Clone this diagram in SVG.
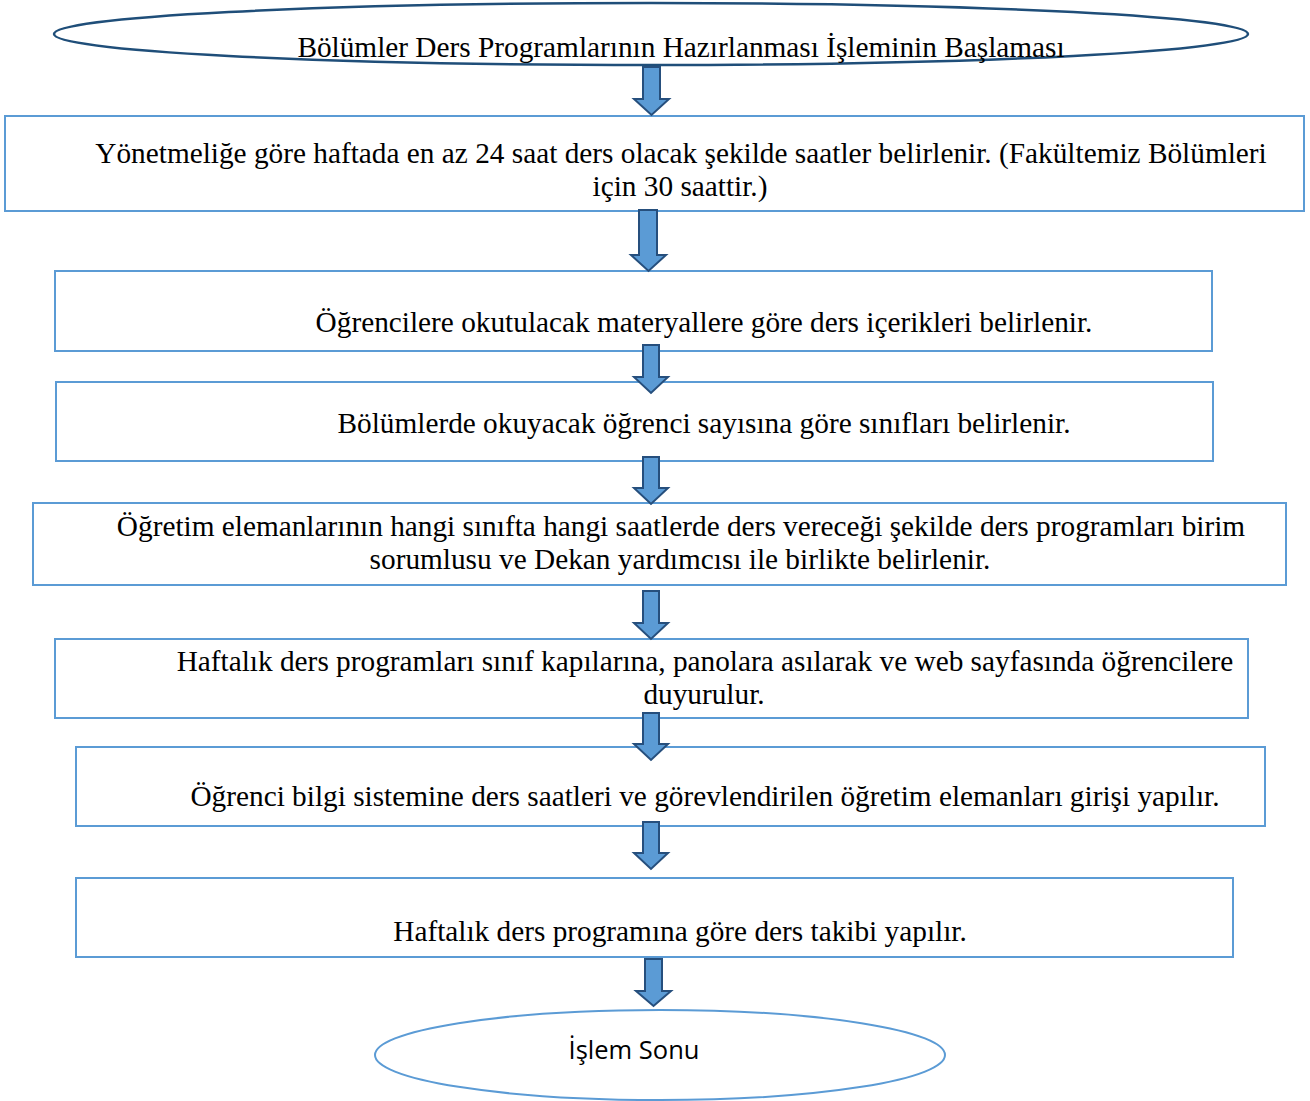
<svg xmlns="http://www.w3.org/2000/svg" width="1310" height="1101" viewBox="0 0 1310 1101">
  <style>
    .box { fill: #ffffff; stroke: #5B9BD5; stroke-width: 2; }
    .start { fill: #ffffff; stroke: #1F4E79; stroke-width: 2.5; }
    .end { fill: #ffffff; stroke: #5B9BD5; stroke-width: 2; }
    .arrow { fill: #5B9BD5; stroke: #264F7D; stroke-width: 2; stroke-linejoin: miter; }
    .t { font-family: "Liberation Serif", "Times New Roman", serif; font-size: 29.3px; fill: #000; text-anchor: middle; }
    .s { font-family: "Open Sans", "Liberation Sans", sans-serif; font-size: 25.5px; fill: #000; text-anchor: middle; }
  </style>

  <g id="n-start">
    <ellipse class="start" cx="651" cy="34" rx="597" ry="31"/>
    <text class="t" x="681" y="57">Bölümler Ders Programlarının Hazırlanması İşleminin Başlaması</text>
  </g>

  <g id="n1">
    <rect class="box" x="5" y="116" width="1299" height="95"/>
    <text class="t" x="681" y="163">Yönetmeliğe göre haftada en az 24 saat ders olacak şekilde saatler belirlenir. (Fakültemiz Bölümleri</text>
    <text class="t" x="680" y="196">için 30 saattir.)</text>
  </g>

  <g id="n2">
    <rect class="box" x="55" y="271" width="1157" height="80"/>
    <text class="t" x="704" y="332">Öğrencilere okutulacak materyallere göre ders içerikleri belirlenir.</text>
  </g>

  <g id="n3">
    <rect class="box" x="56" y="382" width="1157" height="79"/>
    <text class="t" x="704" y="433">Bölümlerde okuyacak öğrenci sayısına göre sınıfları belirlenir.</text>
  </g>

  <g id="n4">
    <rect class="box" x="33" y="503" width="1253" height="82"/>
    <text class="t" x="681" y="536">Öğretim elemanlarının hangi sınıfta hangi saatlerde ders vereceği şekilde ders programları birim</text>
    <text class="t" x="680" y="569">sorumlusu ve Dekan yardımcısı ile birlikte belirlenir.</text>
  </g>

  <g id="n5">
    <rect class="box" x="55" y="639" width="1193" height="79"/>
    <text class="t" x="705" y="671">Haftalık ders programları sınıf kapılarına, panolara asılarak ve web sayfasında öğrencilere</text>
  </g>

  <g id="n6">
    <rect class="box" x="76" y="747" width="1189" height="79"/>
    <text class="t" x="705" y="806">Öğrenci bilgi sistemine ders saatleri ve görevlendirilen öğretim elemanları girişi yapılır.</text>
  </g>

  <g id="n7">
    <rect class="box" x="76" y="878" width="1157" height="79"/>
    <text class="t" x="680" y="941">Haftalık ders programına göre ders takibi yapılır.</text>
  </g>

  <g id="n-end">
    <ellipse class="end" cx="660" cy="1055" rx="285" ry="45"/>
    <text class="s" x="634" y="1059">İşlem Sonu</text>
  </g>

  <!-- block arrows between the steps -->
  <g id="connectors">
    <polygon class="arrow" points="643,67 660,67 660,99 669,99 651.5,115 634,99 643,99"/>
    <polygon class="arrow" points="639,210 657,210 657,255 666,255 648.5,271 631,255 639,255"/>
    <polygon class="arrow" points="643,345 659,345 659,377 668,377 651,393 634,377 643,377"/>
    <polygon class="arrow" points="643,457 659,457 659,488 668,488 651,504 634,488 643,488"/>
    <polygon class="arrow" points="643,591 659,591 659,623 668,623 651,639 634,623 643,623"/>
    <polygon class="arrow" points="643,713 659,713 659,744 668,744 651,760 634,744 643,744"/>
    <polygon class="arrow" points="643,822 659,822 659,853 668,853 651,869 634,853 643,853"/>
    <polygon class="arrow" points="645,959 662,959 662,991 671,991 653.5,1006 636,991 645,991"/>
  </g>

  <!-- second line of step 5 sits over the arrow below it -->
  <g id="n5-tail">
    <text class="t" x="704" y="704">duyurulur.</text>
  </g>
</svg>
